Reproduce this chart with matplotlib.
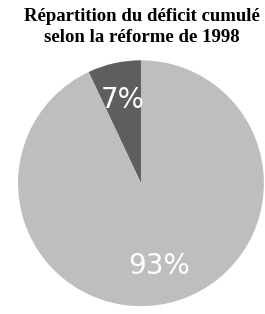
import matplotlib.pyplot as plt

labels = ["Part A", "Part B"]
values = [7, 93]
colors = ["#5e5e5e", "#bebebe"]

fig = plt.figure(figsize=(2.65, 3.14), dpi=100)
ax = fig.add_axes([0.068, 0.025, 0.928, 0.783])
wedges, texts, autotexts = ax.pie(values, colors=colors, startangle=90, counterclock=True,
                                  autopct="%d%%", pctdistance=0.69,
                                  wedgeprops=dict(linewidth=0),
                                  textprops=dict(color="white", fontsize=20, family="DejaVu Sans"))
ax.set_aspect("equal")
ax.set_xlim(-1, 1)
ax.set_ylim(-1, 1)

fig.text(0.535, 0.975, "Répartition du déficit cumulé\nselon la réforme de 1998",
         ha="center", va="top", fontsize=13.5, fontweight="bold",
         family="Liberation Serif", linespacing=1.3)

fig.savefig("out.png", dpi=100)
